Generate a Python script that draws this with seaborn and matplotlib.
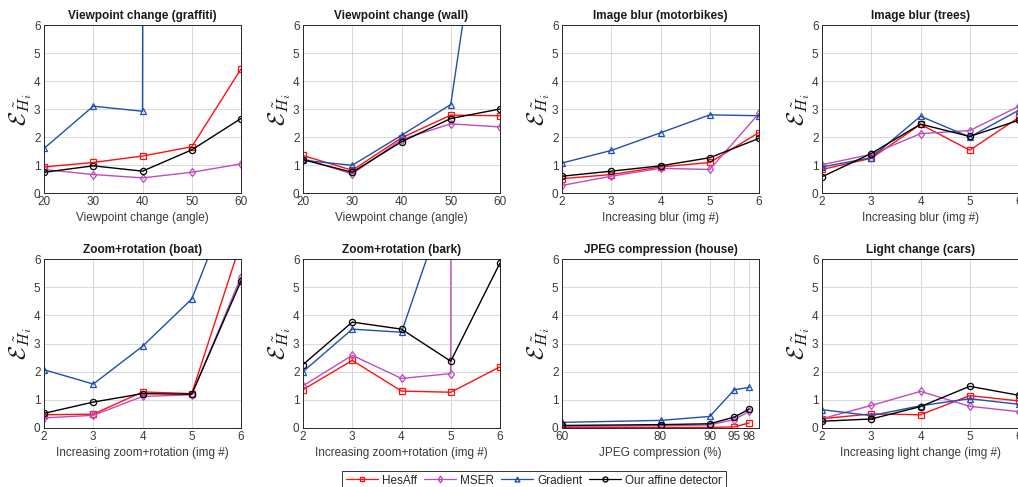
import matplotlib
matplotlib.use('Agg')
import matplotlib.pyplot as plt
import seaborn as sns
from matplotlib.lines import Line2D

sns.set_style('whitegrid')
plt.rcParams['font.family'] = ['Liberation Sans', 'DejaVu Sans']
plt.rcParams['mathtext.fontset'] = 'cm'

# ---------------- data ----------------
methods = ['HesAff', 'MSER', 'Gradient', 'Our affine detector']
colors = ['#ff1010', '#c04cbc', '#1f4fae', '#000000']
markers = ['s', 'd', '^', 'o']

titles = ['Viewpoint change (graffiti)', 'Viewpoint change (wall)',
          'Image blur (motorbikes)', 'Image blur (trees)',
          'Zoom+rotation (boat)', 'Zoom+rotation (bark)',
          'JPEG compression (house)', 'Light change (cars)']
xlabels = ['Viewpoint change (angle)', 'Viewpoint change (angle)',
           'Increasing blur (img #)', 'Increasing blur (img #)',
           'Increasing zoom+rotation (img #)', 'Increasing zoom+rotation (img #)',
           'JPEG compression (%)', 'Increasing light change (img #)']

x_view = [20, 30, 40, 50, 60]
x_img = [2, 3, 4, 5, 6]
x_jpeg = [60, 80, 90, 95, 98]
y_ticks = [0, 1, 2, 3, 4, 5, 6]

# values per panel: HesAff, MSER, Gradient, Ours (large values run off the 0-6 axis)
graffiti_hesaff = [0.93, 1.09, 1.32, 1.65, 4.43]
graffiti_mser = [0.84, 0.66, 0.54, 0.74, 1.04]
graffiti_gradient = [1.59, 3.10, 2.92, 1000.0, 1000.0]
graffiti_ours = [0.74, 0.97, 0.78, 1.54, 2.66]

wall_hesaff = [1.34, 0.81, 1.97, 2.78, 2.76]
wall_mser = [1.23, 0.68, 1.91, 2.47, 2.36]
wall_gradient = [1.17, 0.99, 2.06, 3.16, 15.0]
wall_ours = [1.19, 0.74, 1.83, 2.66, 3.00]

motorbikes_hesaff = [0.51, 0.66, 0.93, 1.09, 2.16]
motorbikes_mser = [0.27, 0.60, 0.88, 0.84, 2.84]
motorbikes_gradient = [1.07, 1.52, 2.15, 2.79, 2.76]
motorbikes_ours = [0.60, 0.78, 0.97, 1.26, 1.95]

trees_hesaff = [0.84, 1.24, 2.45, 1.53, 2.70]
trees_mser = [1.01, 1.38, 2.12, 2.23, 3.10]
trees_gradient = [0.93, 1.26, 2.74, 2.00, 2.96]
trees_ours = [0.58, 1.41, 2.46, 2.02, 2.60]

boat_hesaff = [0.47, 0.49, 1.28, 1.22, 6.60]
boat_mser = [0.36, 0.45, 1.12, 1.18, 5.36]
boat_gradient = [2.07, 1.56, 2.90, 4.58, 9.0]
boat_ours = [0.52, 0.92, 1.22, 1.20, 5.22]

bark_hesaff = [1.36, 2.40, 1.31, 1.27, 2.17]
bark_mser = [1.50, 2.58, 1.76, 1.93, 1000.0]
bark_gradient = [2.00, 3.51, 3.40, 8.5, 30.0]
bark_ours = [2.25, 3.76, 3.51, 2.37, 5.86]

house_hesaff = [0.02, 0.02, 0.02, 0.04, 0.18]
house_mser = [0.06, 0.08, 0.11, 0.30, 0.59]
house_gradient = [0.20, 0.27, 0.41, 1.36, 1.44]
house_ours = [0.09, 0.12, 0.15, 0.39, 0.67]

cars_hesaff = [0.33, 0.50, 0.47, 1.15, 0.96]
cars_mser = [0.33, 0.80, 1.30, 0.77, 0.58]
cars_gradient = [0.65, 0.44, 0.79, 1.04, 0.84]
cars_ours = [0.24, 0.32, 0.76, 1.48, 1.16]

panels = [
    (x_view, [graffiti_hesaff, graffiti_mser, graffiti_gradient, graffiti_ours]),
    (x_view, [wall_hesaff, wall_mser, wall_gradient, wall_ours]),
    (x_img, [motorbikes_hesaff, motorbikes_mser, motorbikes_gradient, motorbikes_ours]),
    (x_img, [trees_hesaff, trees_mser, trees_gradient, trees_ours]),
    (x_img, [boat_hesaff, boat_mser, boat_gradient, boat_ours]),
    (x_img, [bark_hesaff, bark_mser, bark_gradient, bark_ours]),
    (x_jpeg, [house_hesaff, house_mser, house_gradient, house_ours]),
    (x_img, [cars_hesaff, cars_mser, cars_gradient, cars_ours]),
]
xlims = [(20, 60), (20, 60), (2, 6), (2, 6), (2, 6), (2, 6), (60, 100), (2, 6)]

# ---------------- figure ----------------
W, H = 1018, 487
fig = plt.figure(figsize=(W / 100, H / 100), dpi=100)

lefts = [44, 303, 562, 822]
aw = 197
rows = [(25, 193), (259, 428)]

tick_col = '#3a3a3a'
for i, (xs, series) in enumerate(panels):
    r, c = divmod(i, 4)
    top, bot = rows[r]
    ax = fig.add_axes([lefts[c] / W, 1 - bot / H, aw / W, (bot - top) / H])
    for name, ys, col, mk in zip(methods, series, colors, markers):
        sns.lineplot(x=xs, y=ys, ax=ax, color=col, marker=mk, markersize=4.5,
                     markerfacecolor='none', markeredgecolor=col, markeredgewidth=0.9,
                     linewidth=1.0, estimator=None, sort=False, legend=False)
    ax.set_xlim(*xlims[i])
    ax.set_ylim(0, 6)
    ax.set_xticks(xs)
    ax.set_yticks(y_ticks)
    ax.grid(True, color='#d8d8d8', linewidth=0.7)
    for s in ax.spines.values():
        s.set_color('#262626')
        s.set_linewidth(0.7)
        s.set_visible(True)
    ax.tick_params(direction='in', length=3, width=0.6, colors='#262626',
                   labelcolor=tick_col, labelsize=8.5, pad=2.5)
    ax.set_title(titles[i], fontsize=8.5, fontweight='bold', color='#1a1a1a', pad=4)
    ax.set_xlabel(xlabels[i], fontsize=8.5, color=tick_col, labelpad=2.5)
    ax.set_ylabel(r'$\mathcal{E}_{\tilde{H}_i}$', fontsize=17, color='#1a1a1a', labelpad=0)

handles = [Line2D([], [], color=c, marker=m, markersize=3.5, markerfacecolor='none',
                  markeredgecolor=c, linewidth=0.9, label=n)
           for n, c, m in zip(methods, colors, markers)]
leg = fig.legend(handles=handles, loc='upper center', bbox_to_anchor=(534 / W, 1 - 471 / H),
                 ncol=4, fontsize=8.5, frameon=True, fancybox=False, handlelength=2.7,
                 handletextpad=0.35, columnspacing=0.6, borderpad=0.3, borderaxespad=0)
leg.get_frame().set_edgecolor('#000000')
leg.get_frame().set_linewidth(0.7)

fig.savefig('out.png', dpi=100)
